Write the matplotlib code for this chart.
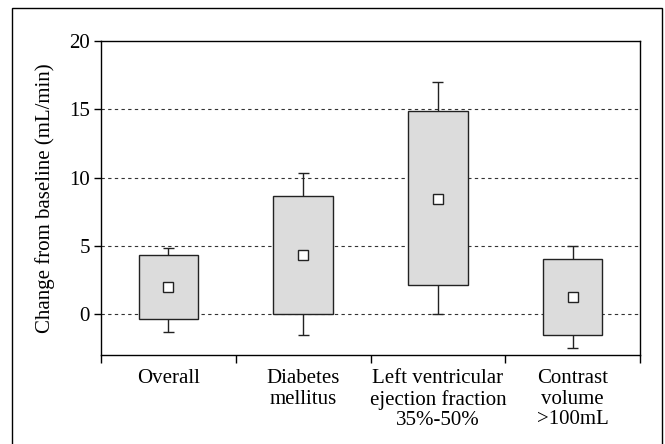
"""Change from baseline by subgroup: box-style summary plot."""

import matplotlib

matplotlib.use("Agg")
import matplotlib.pyplot as plt  # noqa: E402
from matplotlib.patches import Rectangle  # noqa: E402

categories = [
    "Overall",
    "Diabetes\nmellitus",
    "Left ventricular\nejection fraction\n35%-50%",
    "Contrast\nvolume\n>100mL",
]
box_low = [-0.35, 0.0, 2.12, -1.56]
box_high = [4.34, 8.65, 14.85, 4.05]
whisker_low = [-1.3, -1.5, -0.02, -2.48]
whisker_high = [4.85, 10.3, 17.02, 4.98]
centre = [2.0, 4.3, 8.46, 1.24]
y_ticks = [0, 5, 10, 15, 20]

plt.rcParams["font.family"] = ["Liberation Serif", "DejaVu Serif"]
FONT_SIZE = 15

fig = plt.figure(figsize=(6.65, 4.44), dpi=100)
fig.patches.append(
    Rectangle((12 / 665, -0.05), 650 / 665, 1.05 - 8 / 444,
              transform=fig.transFigure, fill=False, edgecolor="black",
              linewidth=1.0)
)
ax = fig.add_axes([101 / 665, 1 - 355 / 444, 539 / 665, 314 / 444])

box_width = 0.44
cap_half = 0.04
for i, label in enumerate(categories):
    x = i + 0.5
    ax.vlines(x, whisker_low[i], box_low[i], color="#222222", linewidth=1.0, zorder=3)
    ax.vlines(x, box_high[i], whisker_high[i], color="#222222", linewidth=1.0, zorder=3)
    ax.hlines([whisker_low[i], whisker_high[i]], x - cap_half, x + cap_half,
              color="#222222", linewidth=1.0, zorder=3)
    ax.bar(x, box_high[i] - box_low[i], bottom=box_low[i], width=box_width,
           color="#dcdcdc", edgecolor="#222222", linewidth=1.0, zorder=3)
    ax.plot(x, centre[i], marker="s", markersize=7, markerfacecolor="white",
            markeredgecolor="#222222", markeredgewidth=1.0, zorder=4)

for y in y_ticks[:-1]:
    ax.axhline(y, color="#333333", linestyle=(0, (3, 3)), linewidth=0.8, zorder=1)

ax.set_xlim(0, len(categories))
ax.set_ylim(-3, 20)
ax.set_yticks(y_ticks)
ax.set_xticks(range(len(categories) + 1))
ax.set_xticklabels([])
ax.set_xticks([i + 0.5 for i in range(len(categories))], categories, minor=True)
for text in ax.get_xticklabels(minor=True):
    text.set_linespacing(1.12)
ax.tick_params(axis="x", which="major", direction="out", length=6, width=1.0)
ax.tick_params(axis="x", which="minor", length=0, pad=10, labelsize=FONT_SIZE)
ax.tick_params(axis="y", direction="out", length=5, width=1.0,
               labelsize=FONT_SIZE, pad=3)
for spine in ax.spines.values():
    spine.set_linewidth(1.0)
ax.set_ylabel("Change from baseline (mL/min)", fontsize=FONT_SIZE, labelpad=10)

fig.savefig("out.png", dpi=100)
